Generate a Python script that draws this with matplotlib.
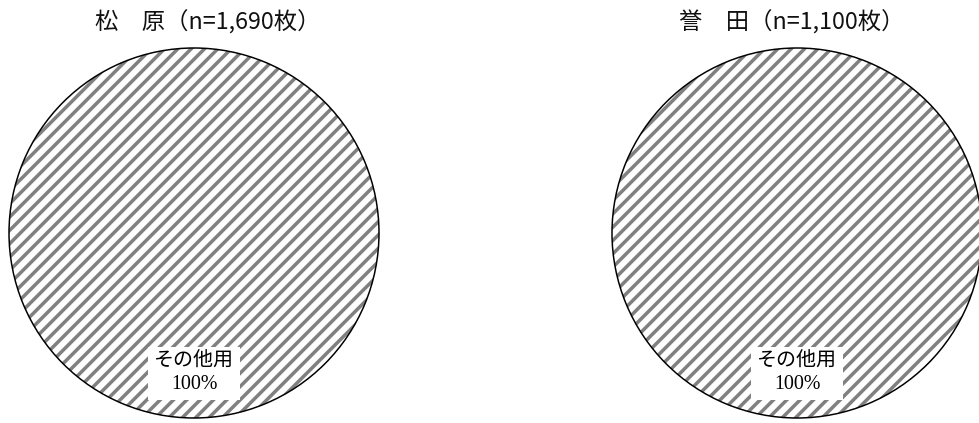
import matplotlib
matplotlib.use("Agg")
import matplotlib.pyplot as plt

# データ
sites = ['松　原', '誉　田']
counts = [1690, 1100]
categories = ['その他用']
shares = [[100], [100]]

plt.rcParams['font.family'] = ['Noto Sans CJK JP', 'DejaVu Sans']
plt.rcParams['hatch.linewidth'] = 2.1

W, H, DPI = 980, 423, 120
fig = plt.figure(figsize=(W / DPI, H / DPI), dpi=DPI)

# 円の位置 (ピクセル): 中心x, 中心y(上から), 半径
circles = [(194, 233, 185), (797, 233, 185)]
title_x = [208, 792]

for i, (cx, cy, r) in enumerate(circles):
    ax = fig.add_axes([(cx - r) / W, (H - cy - r) / H, 2 * r / W, 2 * r / H])
    # ハッチング
    wedges, texts = ax.pie(shares[i], labels=[f'{c}\n{v}%' for c, v in zip(categories, shares[i])],
                           startangle=90, labeldistance=0.76,
                           wedgeprops=dict(facecolor='white', edgecolor='#808080',
                                           hatch='///', linewidth=0),
                           textprops=dict(fontsize=12, ha='center', va='center',
                                          family=['Liberation Serif', 'Noto Sans CJK JP'],
                                          linespacing=1.25))
    for t in texts:
        t.set_bbox(dict(facecolor='white', edgecolor='none', pad=3.5))
        t.set_horizontalalignment('center')
    # 外枠
    ax.pie(shares[i], startangle=90,
           wedgeprops=dict(facecolor='none', edgecolor='black', linewidth=0.9))
    ax.set_xlim(-1, 1)
    ax.set_ylim(-1, 1)
    ax.set_aspect('equal')
    ax.axis('off')

    fig.text(title_x[i] / W, 1 - 22 / H, f'{sites[i]}（n={counts[i]:,}枚）',
             ha='center', va='center', fontsize=14, color='#111111')

fig.savefig('out.png', dpi=DPI)
